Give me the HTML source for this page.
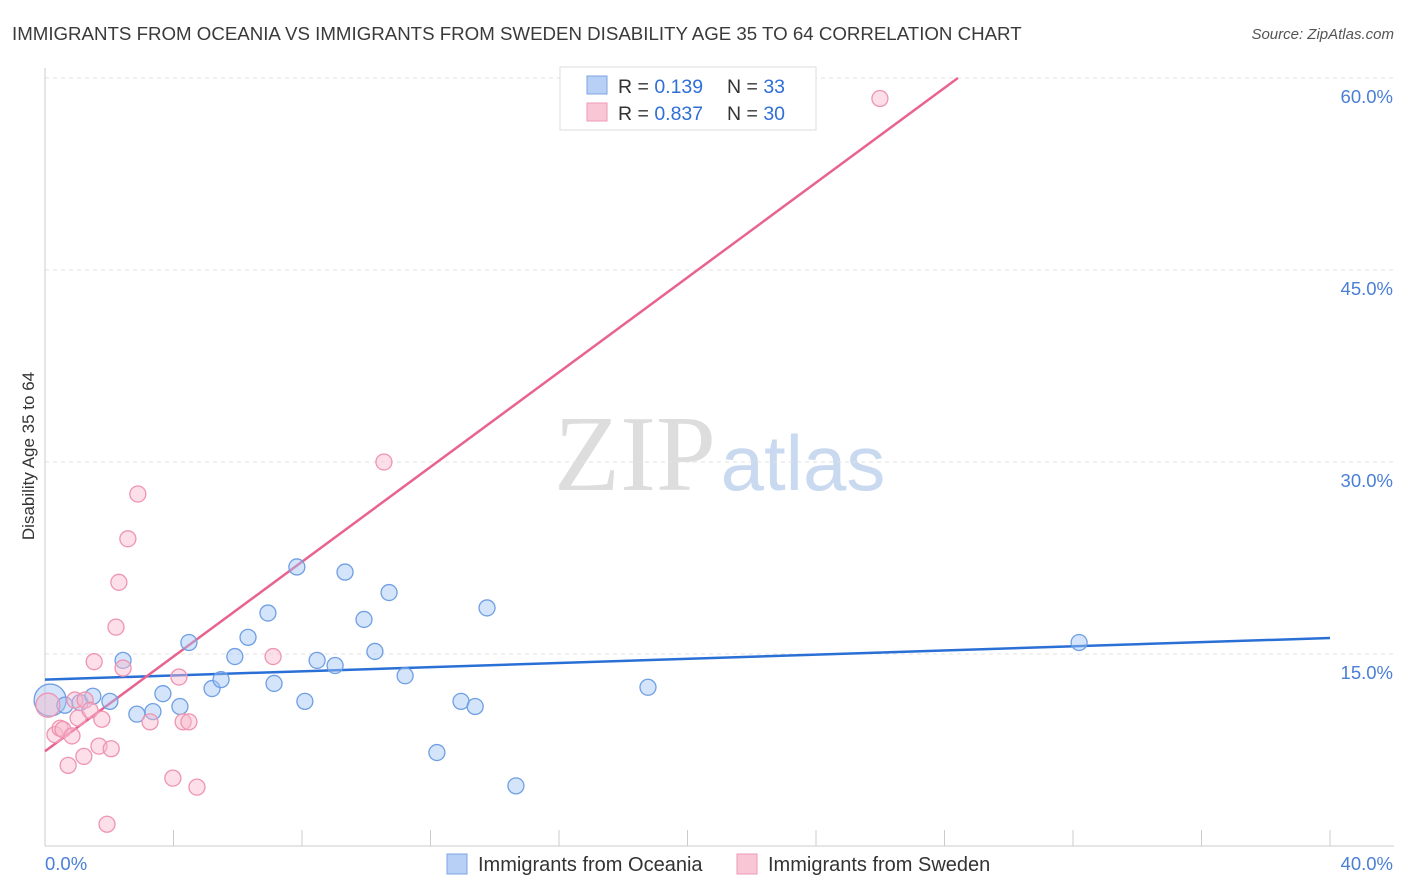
<!DOCTYPE html>
<html><head><meta charset="utf-8"><style>
body{margin:0;background:#fff;font-family:"Liberation Sans",sans-serif;}
svg{display:block}
</style></head><body>
<svg id="chart" width="1406" height="892">
<text x="12" y="40" font-size="18.7" fill="#3a3a3a">IMMIGRANTS FROM OCEANIA VS IMMIGRANTS FROM SWEDEN DISABILITY AGE 35 TO 64 CORRELATION CHART</text>
<text x="1394" y="39" font-size="15" fill="#555" font-style="italic" text-anchor="end">Source: ZipAtlas.com</text>
<text x="34" y="456" font-size="17" fill="#333" text-anchor="middle" transform="rotate(-90 34 456)">Disability Age 35 to 64</text>
<g><text x="635" y="490" font-size="108" fill="#ddd" font-family="Liberation Serif,serif" text-anchor="middle">ZIP</text><text x="803" y="490" font-size="78" fill="#c9d9f0" text-anchor="middle">atlas</text></g>
<g id="grid"></g><g id="axes"></g><g id="trends"></g><g id="points"></g>
<g>
<rect x="560" y="67" width="256" height="63" fill="#fff" stroke="#ddd"/>
<rect x="587" y="76" width="20" height="18" fill="#b8d0f5" stroke="#7aa4e0"/>
<rect x="587" y="103" width="20" height="18" fill="#f9c6d5" stroke="#ee9ab4"/>
<text x="618" y="93" font-size="19.5" fill="#333">R = <tspan fill="#2f6fd6">0.139</tspan></text><text x="727" y="93" font-size="19.5" fill="#333">N = <tspan fill="#2f6fd6">33</tspan></text>
<text x="618" y="120" font-size="19.5" fill="#333">R = <tspan fill="#2f6fd6">0.837</tspan></text><text x="727" y="120" font-size="19.5" fill="#333">N = <tspan fill="#2f6fd6">30</tspan></text>
</g>
<g>
<rect x="447" y="854" width="20" height="20" fill="#b8d0f5" stroke="#7aa4e0"/>
<text x="478" y="871" font-size="20" fill="#333">Immigrants from Oceania</text>
<rect x="737" y="854" width="20" height="20" fill="#f9c6d5" stroke="#ee9ab4"/>
<text x="768" y="871" font-size="20" fill="#333">Immigrants from Sweden</text>
</g>
</svg>
<script>
const yTicks=[15,30,45,60];
const yTickLabels=["15.0%","30.0%","45.0%","60.0%"];
const xTicks=[0,4,8,12,16,20,24,28,32,36,40];
const oceaniaX=[0.16,0.62,1.09,1.49,2.02,2.43,2.86,3.36,3.67,4.20,4.48,5.20,5.48,5.91,6.32,6.94,7.13,7.84,8.09,8.47,9.03,9.34,9.93,10.27,10.71,11.21,12.20,12.95,13.39,13.76,14.66,18.77,32.19];
const oceaniaY=[11.4,11.0,11.2,11.7,11.3,14.5,10.3,10.5,11.9,10.9,15.9,12.3,13.0,14.8,16.3,18.2,12.7,21.8,11.3,14.5,14.1,21.4,17.7,15.2,19.8,13.3,7.3,11.3,10.9,18.6,4.7,12.4,15.9];
const swedenX=[0.09,0.31,0.47,0.56,0.72,0.84,0.93,1.03,1.21,1.25,1.40,1.53,1.68,1.77,1.93,2.06,2.21,2.30,2.43,2.58,2.89,3.27,3.98,4.17,4.30,4.48,4.73,7.10,10.55,25.99];
const swedenY=[11.0,8.7,9.2,9.1,6.3,8.6,11.4,10.0,7.0,11.4,10.6,14.4,7.8,9.9,1.7,7.6,17.1,20.6,13.9,24.0,27.5,9.7,5.3,13.2,9.7,9.7,4.6,14.8,30.0,58.4];
const oceaniaTrend=[13.0,16.25];
const swedenTrend=[7.4,1.851];
const NS="http://www.w3.org/2000/svg";
const xs=v=>45+v/40*1285, ys=v=>846-v/15*192;
function mk(t,a,p){const e=document.createElementNS(NS,t);for(const k in a)e.setAttribute(k,a[k]);document.getElementById(p).appendChild(e);return e;}
mk('line',{x1:45,y1:68,x2:45,y2:846,stroke:'#ccc'},'axes');
mk('line',{x1:45,y1:846,x2:1394,y2:846,stroke:'#ccc'},'axes');
yTicks.forEach((t,i)=>{
 const g=mk('line',{x1:45,y1:ys(t),x2:1394,y2:ys(t),stroke:'#e2e2e2','stroke-dasharray':'4,4'},'grid');
 
 
 const l=mk('text',{x:1393,y:ys(t)+25,'font-size':18.5,fill:'#4a7fd6','text-anchor':'end'},'axes');
 l.textContent=yTickLabels[i];
 
 
});
xTicks.forEach(t=>{mk('line',{x1:xs(t),y1:830,x2:xs(t),y2:846,stroke:'#ccc'},'axes');});
let a=mk('text',{x:45,y:870,'font-size':18.5,fill:'#4a7fd6'},'axes');a.textContent='0.0%';


a=mk('text',{x:1393,y:870,'font-size':18.5,fill:'#4a7fd6','text-anchor':'end'},'axes');a.textContent='40.0%';


let l=mk('line',{x1:xs(0),y1:ys(oceaniaTrend[0]),x2:xs(40),y2:ys(oceaniaTrend[1]),stroke:'#2a6fd6','stroke-width':2.5},'trends');


const xe=(60-swedenTrend[0])/swedenTrend[1];
l=mk('line',{x1:xs(0),y1:ys(swedenTrend[0]),x2:xs(xe),y2:ys(swedenTrend[0]+swedenTrend[1]*xe),stroke:'#e8638e','stroke-width':2.5},'trends');


oceaniaX.forEach((x,i)=>{const c=mk('circle',{cx:xs(x),cy:ys(oceaniaY[i]),r:i==0?16:8,fill:'rgba(160,195,245,0.45)',stroke:'#6f9fe3','stroke-width':1.3},'points');
 
 });
swedenX.forEach((x,i)=>{const c=mk('circle',{cx:xs(x),cy:ys(swedenY[i]),r:i==0?12:8,fill:'rgba(248,185,205,0.45)',stroke:'#ee94b2','stroke-width':1.3},'points');
 
 });
</script>
</body></html>
